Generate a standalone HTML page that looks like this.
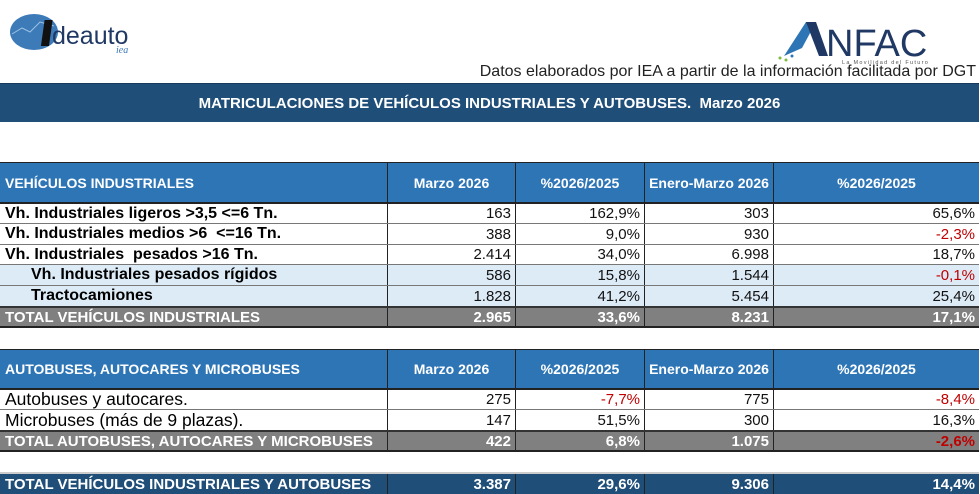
<!DOCTYPE html>
<html><head><meta charset="utf-8"><style>
body{margin:0;width:980px;height:494px;background:#fff;position:relative;overflow:hidden;font-family:"Liberation Sans",sans-serif;}
.r{position:absolute;left:0;width:979px;display:flex;box-sizing:border-box;}
.r div{box-sizing:border-box;border-right:1px solid #222;display:flex;align-items:center;white-space:nowrap;overflow:hidden;}
.r div:last-child{border-right:none}
.c0{width:388px;padding-left:5px}
.c1{width:128px}.c2{width:129px}.c3{width:129px}.c4{width:205px}
.n{justify-content:flex-end;padding-right:4px;font-size:15px;color:#111}
.h{background:#2e75b6;color:#fff;font-weight:bold;font-size:14px;border-bottom:2px solid #222}
.h .n,.h div{justify-content:center;color:#fff;font-weight:bold}
.h .c0{justify-content:flex-start}
.d{border-bottom:1px solid #777;font-size:16px}
.d .c0{font-size:17.5px}
.b .c0{font-weight:bold;font-size:16px}
.lb{background:#ddebf7}
.t{background:#808080;color:#fff;font-weight:bold;font-size:15px;border-bottom:2px solid #222;border-top:2px solid #333}
.t div.n{color:#fff;font-weight:bold}
.f{background:#1f4e79;color:#fff;font-weight:bold;font-size:15px}
.f div.n{color:#fff;font-weight:bold}
.red{color:#c00000 !important}
</style></head><body>
<svg style="position:absolute;left:8px;top:10px" width="150" height="44">
<ellipse cx="26" cy="22" rx="24" ry="18" fill="#3d7ab8"/>
<path d="M4 24 L14 18 L22 22 L32 12 L46 16" stroke="#9cc3e6" fill="none" stroke-width="1"/>
<rect x="38" y="10" width="8" height="26" fill="#111" transform="skewX(-8)"/>
<text x="44" y="34" font-family="Liberation Sans" font-size="25" fill="#1f3864">deauto</text>
<text x="108" y="43" font-family="Liberation Serif" font-style="italic" font-size="10" fill="#3d7ab8">iea</text>
</svg>
<svg style="position:absolute;left:770px;top:18px" width="170" height="46">
<polygon points="14,38 36,4 46,4 32,30" fill="#2e75b6"/>
<polygon points="36,4 46,4 58,38 49,38" fill="#1f3864"/>
<text x="56" y="38" font-family="Liberation Sans" font-size="38" fill="#1f3864">NFAC</text>
<text x="72" y="46" font-family="Liberation Sans" font-size="5.5" letter-spacing="1.3" fill="#555">La Movilidad del Futuro</text>
<circle cx="10" cy="40" r="1.5" fill="#7cbb3e"/><circle cx="16" cy="42" r="1.5" fill="#7cbb3e"/><circle cx="22" cy="38" r="1.5" fill="#2e75b6"/>
</svg>
<div style="position:absolute;right:4px;top:63px;font-size:16px;color:#222">Datos elaborados por IEA a partir de la información facilitada por DGT</div>
<div style="position:absolute;left:0;top:83px;width:979px;height:38px;background:#1f4e79;color:#fff;font-weight:bold;font-size:15px;display:flex;align-items:center;justify-content:center;border-top:1px solid #173a5c">MATRICULACIONES DE VEHÍCULOS INDUSTRIALES Y AUTOBUSES.&nbsp; Marzo 2026</div>

<div class="r h" style="top:162px;height:42px;border-top:1px solid #222"><div class="c0">VEHÍCULOS INDUSTRIALES</div><div class="c1">Marzo 2026</div><div class="c2">%2026/2025</div><div class="c3">Enero-Marzo 2026</div><div class="c4">%2026/2025</div></div>
<div class="r d b" style="top:204px;height:20px"><div class="c0">Vh. Industriales ligeros &gt;3,5 &lt;=6 Tn.</div><div class="c1 n">163</div><div class="c2 n">162,9%</div><div class="c3 n">303</div><div class="c4 n">65,6%</div></div>
<div class="r d b" style="top:224px;height:21px"><div class="c0">Vh. Industriales medios &gt;6&nbsp; &lt;=16 Tn.</div><div class="c1 n">388</div><div class="c2 n">9,0%</div><div class="c3 n">930</div><div class="c4 n red">-2,3%</div></div>
<div class="r d b" style="top:245px;height:20px"><div class="c0">Vh. Industriales&nbsp; pesados &gt;16 Tn.</div><div class="c1 n">2.414</div><div class="c2 n">34,0%</div><div class="c3 n">6.998</div><div class="c4 n">18,7%</div></div>
<div class="r d b lb" style="top:265px;height:21px"><div class="c0" style="padding-left:31px">Vh. Industriales pesados rígidos</div><div class="c1 n">586</div><div class="c2 n">15,8%</div><div class="c3 n">1.544</div><div class="c4 n red">-0,1%</div></div>
<div class="r d b lb" style="top:286px;height:20px;border-bottom:none"><div class="c0" style="padding-left:31px">Tractocamiones</div><div class="c1 n">1.828</div><div class="c2 n">41,2%</div><div class="c3 n">5.454</div><div class="c4 n">25,4%</div></div>
<div class="r t" style="top:306px;height:22px"><div class="c0">TOTAL VEHÍCULOS INDUSTRIALES</div><div class="c1 n">2.965</div><div class="c2 n">33,6%</div><div class="c3 n">8.231</div><div class="c4 n">17,1%</div></div>

<div class="r h" style="top:349px;height:41px;border-top:1px solid #222"><div class="c0">AUTOBUSES, AUTOCARES Y MICROBUSES</div><div class="c1">Marzo 2026</div><div class="c2">%2026/2025</div><div class="c3">Enero-Marzo 2026</div><div class="c4">%2026/2025</div></div>
<div class="r d" style="top:390px;height:20px"><div class="c0">Autobuses y autocares.</div><div class="c1 n">275</div><div class="c2 n red">-7,7%</div><div class="c3 n">775</div><div class="c4 n red">-8,4%</div></div>
<div class="r d" style="top:410px;height:20px;border-bottom:none"><div class="c0">Microbuses (más de 9 plazas).</div><div class="c1 n">147</div><div class="c2 n">51,5%</div><div class="c3 n">300</div><div class="c4 n">16,3%</div></div>
<div class="r t" style="top:430px;height:22px"><div class="c0">TOTAL AUTOBUSES, AUTOCARES Y MICROBUSES</div><div class="c1 n">422</div><div class="c2 n">6,8%</div><div class="c3 n">1.075</div><div class="c4 n red">-2,6%</div></div>

<div class="r f" style="top:472px;height:22px;border-top:2px solid #ccc"><div class="c0">TOTAL VEHÍCULOS INDUSTRIALES Y AUTOBUSES</div><div class="c1 n">3.387</div><div class="c2 n">29,6%</div><div class="c3 n">9.306</div><div class="c4 n">14,4%</div></div>
</body></html>
